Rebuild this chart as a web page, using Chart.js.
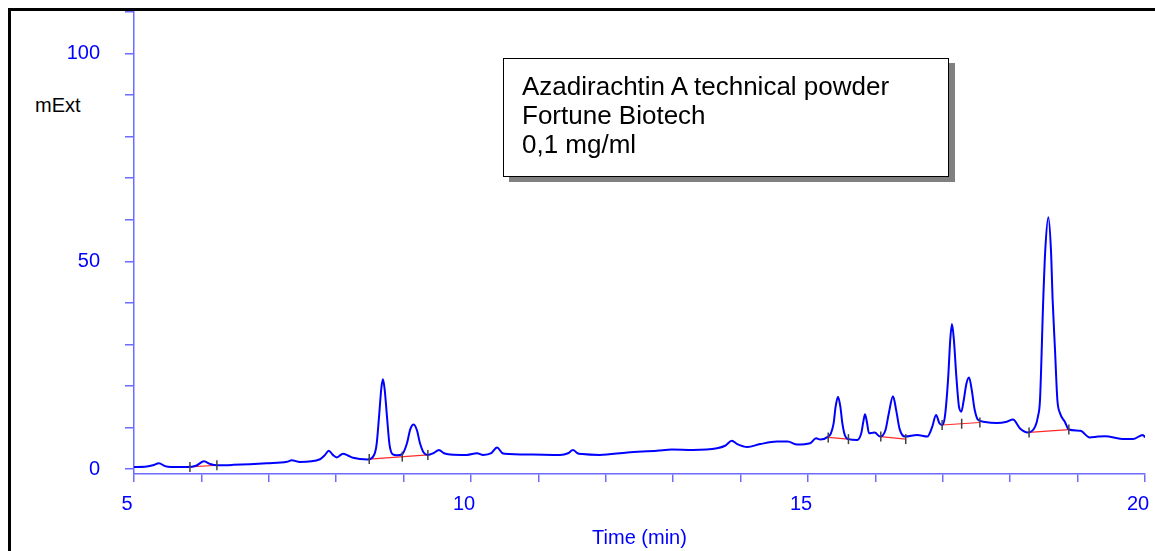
<!DOCTYPE html>
<html>
<head>
<meta charset="utf-8">
<script src="https://cdn.jsdelivr.net/npm/chart.js"></script>
<style>
  body { margin: 0; background: #fff; }
  #wrap { position: relative; width: 1155px; height: 551px; overflow: hidden; }
  #frame { position: absolute; left: 8px; top: 8px; width: 1200px; height: 600px;
           border-left: 3px solid #000; border-top: 3px solid #000; }
  #unit { position: absolute; left: 35px; top: 95px; font: 20px "Liberation Sans", Arial, sans-serif;
          line-height: 20px; color: #000; }
  #note { position: absolute; left: 503px; top: 58px; width: 426px; height: 104px;
          border: 1.5px solid #000; box-shadow: 6px 5px 0 #808080; background: #fff;
          padding: 13px 0 0 18px; font: 26px "Liberation Sans", Arial, sans-serif; line-height: 29px;
          color: #000; z-index: 2; }
  canvas { position: absolute; left: 0; top: 0; z-index: 1; }
</style>
</head>
<body>
<div id="wrap">
  <div id="frame"></div>
  <canvas id="myChart"></canvas>
  <div id="unit">mExt</div>
  <div id="note">Azadirachtin A technical powder<br>Fortune Biotech<br>0,1 mg/ml</div>
</div>
<script>
// retention time (min) and signal (mExt)
const times = [5.00, 5.16, 5.28, 5.37, 5.46, 5.55, 5.79, 5.92, 6.04, 6.13, 6.23, 6.47, 6.97, 7.27, 7.34, 7.46,
  7.76, 7.83, 7.89, 7.95, 8.01, 8.10, 8.18, 8.25, 8.47, 8.56, 8.60, 8.635, 8.67, 8.694, 8.72, 8.754, 8.79, 8.84,
  8.90, 8.98, 9.05, 9.10, 9.15, 9.20, 9.24, 9.30, 9.36, 9.44, 9.525, 9.60, 9.69, 9.94, 10.09, 10.18, 10.30, 10.386,
  10.46, 10.50, 10.92, 11.32, 11.44, 11.513, 11.58, 11.65, 11.91, 12.32, 12.76, 12.98, 13.29, 13.65, 13.77, 13.87,
  13.95, 14.10, 14.29, 14.54, 14.70, 14.84, 15.03, 15.12, 15.18, 15.30, 15.34, 15.38, 15.41, 15.445, 15.48, 15.51,
  15.55, 15.60, 15.73, 15.79, 15.82, 15.846, 15.875, 15.905, 15.95, 15.99, 16.07, 16.15, 16.20, 16.261, 16.31,
  16.36, 16.44, 16.62, 16.77, 16.84, 16.90, 16.95, 16.99, 17.03, 17.08, 17.11, 17.136, 17.165, 17.20, 17.24,
  17.275, 17.31, 17.35, 17.389, 17.43, 17.47, 17.52, 17.60, 17.80, 17.95, 18.04, 18.15, 18.26, 18.37, 18.41,
  18.442, 18.49, 18.52, 18.566, 18.605, 18.63, 18.665, 18.70, 18.74, 18.81, 18.87, 19.04, 19.18, 19.30, 19.41,
  19.63, 19.82, 19.97, 20.00];
const signal = [0.5, 0.55, 0.9, 1.4, 0.7, 0.5, 0.5, 0.8, 1.85, 1.2, 0.9, 1.0, 1.4, 1.75, 2.1, 1.7,
  2.35, 3.3, 4.4, 3.4, 2.8, 3.7, 3.2, 2.7, 2.3, 3.3, 6.0, 12.5, 19.5, 21.6, 19.0, 12.5, 6.0, 3.5,
  3.3, 3.6, 6.2, 9.6, 10.7, 9.2, 6.4, 3.9, 3.4, 3.8, 4.6, 3.8, 3.5, 3.4, 3.8, 3.4, 3.8, 5.2,
  3.9, 3.7, 3.5, 3.4, 3.8, 4.6, 3.8, 3.6, 3.4, 4.0, 4.4, 4.7, 4.6, 5.0, 5.6, 6.8,
  6.0, 5.3, 6.0, 6.6, 6.6, 5.9, 6.2, 7.4, 7.1, 7.8, 8.6, 11.0, 15.0, 17.4, 15.0, 11.0,
  8.0, 7.2, 7.0, 8.6, 11.3, 13.2, 11.2, 8.6, 8.7, 8.8, 7.8, 9.4, 13.5, 17.5, 14.0,
  9.6, 7.8, 8.2, 7.8, 10.0, 13.0, 11.0, 10.6, 12.5, 22.0, 31.0, 34.9, 31.0, 22.5, 15.0,
  13.8, 16.5, 20.5, 22.0, 19.0, 14.5, 11.9, 11.4, 11.1, 11.4, 11.9, 9.7, 8.8, 10.2, 12.5,
  16.6, 40.6, 52.6, 60.6, 52.6, 40.6, 28.6, 16.6, 13.4, 11.4, 9.5, 9.2, 7.6, 7.8, 7.9,
  7.3, 7.2, 8.2, 7.6];

// integration baselines: start/end time and level
const baseStartT = [5.83, 8.49, 15.30, 16.08, 16.99, 18.28];
const baseStartV = [0.5, 2.4, 7.6, 7.8, 10.6, 8.8];
const baseEndT = [6.23, 9.36, 15.60, 16.45, 17.55, 18.87];
const baseEndV = [0.9, 3.4, 7.2, 7.2, 11.2, 9.5];

// peak boundary markers
const markT = [5.83, 6.23, 8.49, 8.98, 9.36, 15.30, 15.60, 16.08, 16.45, 16.99, 17.28, 17.55, 18.28, 18.87];
const markV = [0.5, 0.9, 2.4, 3.0, 3.4, 7.6, 7.2, 7.8, 7.2, 10.6, 10.9, 11.2, 8.8, 9.5];

const xLabels = [5, 10, 15, 20];
const yLabels = [0, 50, 100];

const axisBlue = '#6b6bff';
const fontFam = '"Liberation Sans", Arial, sans-serif';

const trace = times.map((t, i) => ({ x: t, y: signal[i] }));
const baselines = [];
baseStartT.forEach((t, i) => {
  baselines.push({ x: t, y: baseStartV[i] });
  baselines.push({ x: baseEndT[i], y: baseEndV[i] });
  baselines.push({ x: baseEndT[i], y: null });
});
const marks = markT.map((t, i) => ({ x: t, y: markV[i] }));

const ctx = document.getElementById('myChart');
ctx.width = 1155;
ctx.height = 551;

new Chart(ctx, {
  type: 'line',
  data: {
    datasets: [{
      data: trace,
      borderColor: '#0000ff',
      borderWidth: 2,
      pointRadius: 0,
      cubicInterpolationMode: 'monotone',
      order: 1
    }, {
      data: baselines,
      borderColor: '#ff2a2a',
      borderWidth: 1.2,
      pointRadius: 0,
      spanGaps: false,
      order: 2
    }, {
      data: marks,
      showLine: false,
      pointStyle: 'line',
      rotation: 90,
      pointRadius: 5,
      borderColor: '#404040',
      borderWidth: 1.5,
      order: 0
    }]
  },
  options: {
    responsive: false,
    animation: false,
    layout: { padding: { top: 12, right: 10, left: 0, bottom: 0 } },
    plugins: { legend: { display: false }, tooltip: { enabled: false } },
    scales: {
      x: {
        type: 'linear',
        min: 5,
        max: 20,
        afterFit: s => { s.height = 77; s.paddingLeft = 0; s.paddingRight = 0; },
        border: { color: axisBlue, width: 1.5 },
        grid: { drawOnChartArea: false, drawTicks: true, tickLength: 8, color: axisBlue, lineWidth: 1.5 },
        ticks: {
          stepSize: 1, autoSkip: false, maxRotation: 0, color: '#0000ff', padding: 10, labelOffset: -7,
          font: { family: fontFam, size: 20 },
          callback: v => xLabels.includes(v) ? String(v) : ''
        },
        title: {
          display: true, text: 'Time (min)', color: '#0000ff',
          font: { family: fontFam, size: 20 }, padding: { top: 0, bottom: 1 }
        }
      },
      y: {
        min: -1.2,
        max: 110,
        afterFit: s => { s.width = 134; s.paddingTop = 0; s.paddingBottom = 0; },
        border: { color: axisBlue, width: 1.5 },
        grid: { drawOnChartArea: false, drawTicks: true, tickLength: 9, color: axisBlue, lineWidth: 1.5 },
        ticks: {
          stepSize: 10, includeBounds: false, autoSkip: false, color: '#0000ff', padding: 25,
          font: { family: fontFam, size: 20 },
          callback: v => yLabels.includes(v) ? String(v) : ''
        }
      }
    }
  }
});
</script>
</body>
</html>
